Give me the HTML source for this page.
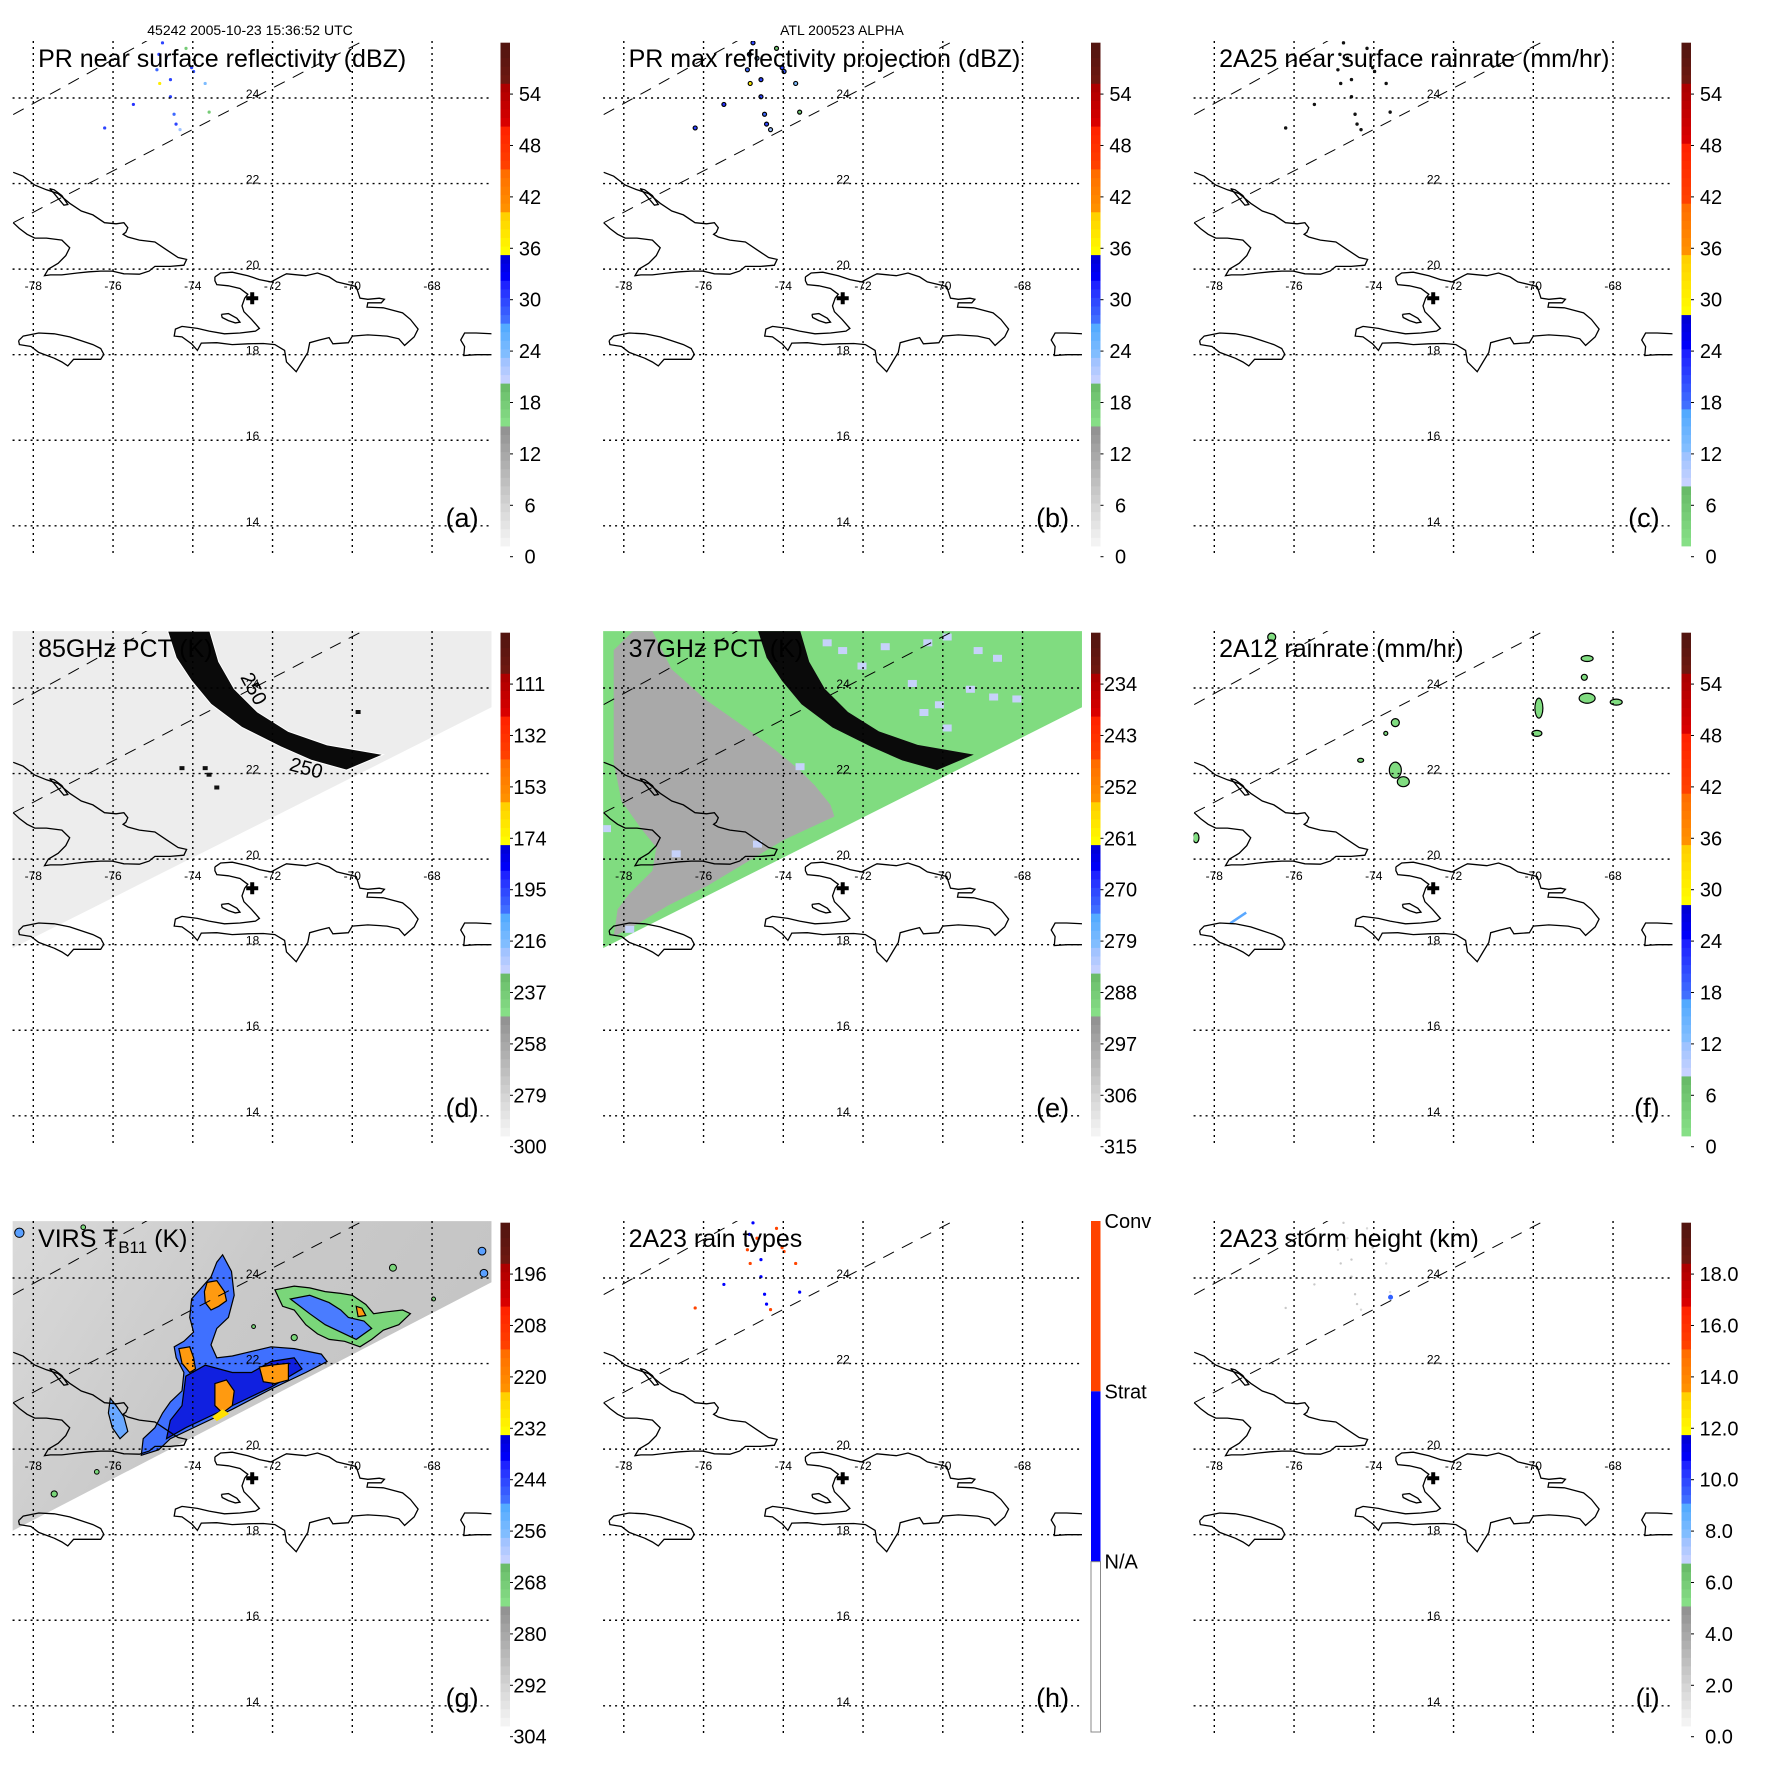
<!DOCTYPE html>
<html><head><meta charset="utf-8">
<style>
html,body{margin:0;padding:0;background:#fff}
svg{display:block}
text{font-family:"Liberation Sans",Arial,sans-serif;fill:#000}
</style></head>
<body>
<svg id="fig" width="1771" height="1771" viewBox="0 0 1771 1771" xmlns="http://www.w3.org/2000/svg">
<defs>
<linearGradient id="virsGrad" x1="0" y1="0" x2="1" y2="0.4">
<stop offset="0" stop-color="#dadada"/><stop offset="0.5" stop-color="#c9c9c9"/><stop offset="1" stop-color="#c4c4c4"/>
</linearGradient>
</defs>
<text x="250" y="35" font-size="14" text-anchor="middle">45242 2005-10-23 15:36:52 UTC</text>
<text x="842" y="35" font-size="14" text-anchor="middle">ATL 200523 ALPHA</text>
</svg>
<script>
// ---------- data arrays ----------
const gridLons=[-78,-76,-74,-72,-70,-68];
const gridLats=[24,22,20,18,16,14];
const labelsDBZ=['0','6','12','18','24','30','36','42','48','54'];
const labelsRain=['0','6','12','18','24','30','36','42','48','54'];
const labels85=['300','279','258','237','216','195','174','153','132','111'];
const labels37=['315','306','297','288','279','270','261','252','243','234'];
const labelsVIRS=['304','292','280','268','256','244','232','220','208','196'];
const labelsHeight=['0.0','2.0','4.0','6.0','8.0','10.0','12.0','14.0','16.0','18.0'];
const rainTypeLabels=['N/A','Strat','Conv'];
// PR echoes: lon, lat
const echoLon=[-74.76,-74.85,-74.90,-74.83,-74.56,-74.66,-74.03,-73.98,-73.69,-74.56,-75.49,-74.47,-74.42,-73.59,-76.21,-74.17,-74.32];
const echoLat=[25.29,25.02,24.66,24.34,24.43,24.93,24.71,24.62,24.34,24.03,23.85,23.62,23.39,23.67,23.30,25.16,23.26];
const echoDBZ=[30,30,28,37,30,23,30,29,24,30,31,28,30,18,30,18,23];
const echoRainType=[1,1,2,2,1,2,2,2,2,1,1,1,1,1,2,2,2];
// 2A12 rain cells: lon, lat, rx, ry
const cellLon=[-68.65,-68.72,-68.65,-67.92,-69.86,-69.91,-73.46,-73.70,-73.46,-73.26,-74.33,-76.56,-78.46];
const cellLat=[24.69,24.25,23.76,23.67,23.53,22.94,23.19,22.94,22.08,21.81,22.31,25.19,20.50];
const cellRx=[6,3,8,6,4,5,4,2,6,6,3,4,3];
const cellRy=[3,3,5,3,10,3,4,2,8,5,2,4,5];
// ---------- geometry ----------
const COLS=[0,590.5,1181];
const ROWS=[{top:41,bot:554,lat24:98,k:42.78,y0:556.7,u:8.567},{top:631,bot:1144,lat24:688,k:42.78,y0:1146.7,u:8.567},{top:1221,bot:1734,lat24:1278,k:42.78,y0:1736.7,u:8.567}];
function X(c,lon){return COLS[c]+33.3+(lon+78)*39.875;}
function Y(r,lat){return ROWS[r].lat24-(lat-24)*ROWS[r].k;}
const LONMIN=-78.52,LONMAX=-66.51,LATMAX=25.33,LATMIN=13.35;
// trace converters
function tLon(zx){return -78+(zx-86)/103;}
function tLat(zy){return 24-(zy-253)/110.5;}
function tLat3(zy){return 24-(zy-213)/116.3;}
function tLat2(zy){return 24-(zy-228)/110.5;}
const cubaT=[[34,445],[60,455],[90,478],[120,490],[150,500],[180,525],[210,545],[240,555],[270,575],[300,578],[320,575],[330,588],[325,600],[318,605],[330,612],[360,620],[400,625],[430,645],[460,665],[482,670],[475,685],[440,688],[400,688],[385,700],[360,708],[320,707],[290,700],[260,700],[230,702],[200,705],[160,710],[130,710],[115,712],[125,695],[150,680],[170,660],[180,640],[160,620],[120,615],[90,615],[70,605],[50,590],[34,575]];
const caysT=[[128,487],[140,490],[160,505],[175,528],[165,530],[150,512],[140,500],[128,487]];
const hispT=[[555,715],[570,705],[600,703],[640,712],[670,722],[700,728],[730,712],[740,707],[790,712],[820,705],[850,715],[870,728],[900,735],[920,740],[930,770],[950,773],[980,770],[993,773],[985,782],[950,782],[948,793],[990,795],[1040,808],[1060,825],[1080,850],[1070,870],[1045,892],[1030,875],[1000,868],[950,865],[910,868],[900,885],[860,888],[850,872],[825,878],[800,885],[795,910],[780,935],[765,960],[740,935],[735,905],[710,890],[680,887],[640,888],[600,890],[560,885],[520,886],[510,905],[495,888],[470,870],[450,868],[453,850],[470,843],[510,848],[540,855],[580,862],[620,860],[660,855],[670,848],[650,825],[630,805],[625,790],[632,770],[640,760],[620,745],[590,738],[560,735],[555,725],[555,715]];
const jamT=[[48,880],[60,868],[100,860],[140,862],[180,870],[210,880],[240,890],[260,900],[268,915],[260,928],[220,928],[190,928],[175,945],[160,935],[140,925],[100,910],[80,895],[50,890],[48,880]];
const prT=[[1272,862],[1230,860],[1200,860],[1190,878],[1200,895],[1198,918],[1230,916],[1272,916]];
const gonT=[[572,812],[590,810],[612,822],[620,832],[608,834],[590,828],[574,820],[572,812]];
const swathUpperT=[[34,296],[380,105]];
const swathLowerT=[[34,575],[930,110]];
const arcT=[[433,81],[455,150],[495,210],[545,270],[625,330],[725,380],[805,415],[895,440],[990,400],[845,375],[745,340],[665,290],[605,230],[565,160],[542,81]];
const grayPatchT=[[60,130],[110,81],[160,81],[210,180],[300,260],[400,330],[480,390],[540,440],[580,480],[620,530],[630,560],[500,620],[400,680],[300,740],[200,790],[100,850],[60,870],[70,800],[100,760],[160,700],[170,640],[130,590],[80,520],[60,420],[60,300]];
const iceSpotsT=[[610,110],[650,130],[870,110],[920,95],[1000,130],[1050,150],[830,215],[900,270],[920,330],[1040,250],[1100,255],[540,430],[430,630],[220,655],[40,590],[100,850],[700,170],[760,120],[980,230],[860,290]];
const darkSpots85T=[[470,435],[530,435],[560,485],[925,290],[540,452]];
const virsBlueA=[[575,150],[598,195],[605,260],[590,320],[560,350],[545,395],[560,430],[600,425],[640,415],[700,400],[760,405],[830,420],[845,440],[790,470],[700,515],[600,570],[520,610],[440,650],[410,680],[365,695],[370,650],[400,620],[420,580],[440,550],[470,520],[475,470],[455,430],[450,400],[475,385],[500,360],[490,320],[495,270],[520,240],[545,210],[560,170]];
const virsDeepA=[[480,480],[530,450],[600,470],[650,470],[700,440],[760,430],[780,460],[700,510],[620,550],[560,580],[480,620],[430,650],[440,600],[470,560]];
const virsGreenB=[[710,245],[760,235],[800,240],[840,250],[880,255],[910,260],[945,285],[965,310],[1000,305],[1040,300],[1060,310],[1030,340],[990,355],[960,380],[930,400],[890,385],[850,380],[820,365],[790,340],[760,300],[730,290]];
const virsBlueB=[[750,270],[800,260],[850,280],[880,300],[900,320],[940,330],[960,350],[920,380],[880,360],[840,340],[800,310]];
const virsLake=[[285,540],[300,560],[320,590],[330,630],[310,650],[290,620],[280,580]];
const virsOrange=[
 [[535,225],[560,220],[580,250],[585,275],[565,290],[545,300],[530,280],[528,250]],
 [[462,405],[490,400],[500,430],[505,460],[490,470],[470,445]],
 [[555,500],[585,490],[605,520],[600,560],[575,580],[555,560]],
 [[670,455],[700,450],[745,445],[745,490],[710,500],[680,495]],
 [[920,290],[935,295],[945,315],[925,318]]];
const virsYellow=[[548,590],[575,570],[592,582],[560,602]];
const virsSmall=[[1015,185,9,'#7ad67a'],[1245,140,10,'#5aa0ff'],[1250,200,10,'#5aa0ff'],[250,740,6,'#7ad67a'],[140,800,8,'#7ad67a'],[215,75,6,'#7ad67a'],[50,90,12,'#5aa0ff'],[655,345,5,'#7ad67a'],[760,375,8,'#7ad67a'],[1120,270,5,'#7ad67a']];

// ---------- helpers ----------
const NS='http://www.w3.org/2000/svg';
const svg=document.getElementById('fig');
function mk(tag,attrs,parent){const e=document.createElementNS(NS,tag);for(const k in attrs)e.setAttribute(k,attrs[k]);(parent||svg).appendChild(e);return e;}
function ptsLL(c,r,ll){return ll.map(p=>X(c,p[0]).toFixed(1)+','+Y(r,p[1]).toFixed(1)).join(' ');}
function traceLL(t,latFn){return t.map(p=>[tLon(p[0]),latFn(p[1])]);}
function hex(c){return [1,3,5].map(i=>parseInt(c.substr(i,2),16));}
function lerpC(a,b,t){const A=hex(a),B=hex(b);return 'rgb('+A.map((v,i)=>Math.round(v+(B[i]-v)*t)).join(',')+')';}

const DBZ_SCHEME=[[1.25,15.25,'#f7f7f7','#8f8f8f'],[15.25,20.25,'#8ae28a','#66b866'],[20.25,23.25,'#ccd4ff','#99c0ff'],[23.25,27.25,'#88c0ff','#4da8ff'],[27.25,32.25,'#4477ff','#1a1aff'],[32.25,35.25,'#0000ff','#0000d0'],[35.25,40.25,'#ffff00','#ffcc00'],[40.25,45.25,'#ff9400','#ff6a00'],[45.25,50.25,'#ff4400','#ff2000'],[50.25,55.25,'#dd0000','#a80000'],[55.25,60,'#701810','#501510']];
const RAIN_SCHEME=[[1.25,8.25,'#88e288','#66b866'],[8.25,12.25,'#ccd4ff','#99c0ff'],[12.25,17.25,'#88c0ff','#4da8ff'],[17.25,24.25,'#4477ff','#1a1aff'],[24.25,28.25,'#0000ff','#0000d0'],[28.25,35.25,'#ffff00','#ffcc00'],[35.25,41.25,'#ff9400','#ff6a00'],[41.25,48.25,'#ff4400','#ff2000'],[48.25,55.25,'#dd0000','#a80000'],[55.25,60,'#701810','#501510']];
function schemeColor(s,u){for(const seg of s){if(u>=seg[0]&&u<=seg[1]){return lerpC(seg[2],seg[3],(u-seg[0])/Math.max(0.01,seg[1]-seg[0]));}}return '#ffffff';}

const PANELS=[
 {c:0,r:0,id:'a',title:'PR near surface reflectivity (dBZ)',scheme:DBZ_SCHEME,labels:labelsDBZ,lx:530},
 {c:1,r:0,id:'b',title:'PR max reflectivity projection (dBZ)',scheme:DBZ_SCHEME,labels:labelsDBZ,lx:530},
 {c:2,r:0,id:'c',title:'2A25 near surface rainrate (mm/hr)',scheme:RAIN_SCHEME,labels:labelsRain,lx:530},
 {c:0,r:1,id:'d',title:'85GHz PCT (K)',scheme:DBZ_SCHEME,labels:labels85,lx:530},
 {c:1,r:1,id:'e',title:'37GHz PCT (K)',scheme:DBZ_SCHEME,labels:labels37,lx:530},
 {c:2,r:1,id:'f',title:'2A12 rainrate (mm/hr)',scheme:RAIN_SCHEME,labels:labelsRain,lx:530},
 {c:0,r:2,id:'g',title:null,scheme:DBZ_SCHEME,labels:labelsVIRS,lx:530},
 {c:1,r:2,id:'h',title:'2A23 rain types',scheme:null,labels:rainTypeLabels,lx:0},
 {c:2,r:2,id:'i',title:'2A23 storm height (km)',scheme:DBZ_SCHEME,labels:labelsHeight,lx:538}
];

PANELS.forEach(P=>{
 const c=P.c,r=P.r,R=ROWS[r];
 const x0=X(c,LONMIN),x1=X(c,LONMAX),y0=R.top,y1=R.bot;
 const g=mk('g',{});
 
 
 const cp=mk('clipPath',{id:'clip'+P.id},g);
 mk('rect',{x:x0,y:y0,width:x1-x0,height:y1-y0},cp);
 const m=mk('g',{'clip-path':'url(#clip'+P.id+')'},g);
 
 

 if(P.id==='d'||P.id==='e'){
  const sw=mk('polygon',{points:ptsLL(c,r,[[LONMIN,LATMAX],[LONMAX,LATMAX],[LONMAX,23.55],[LONMIN,17.92]]),fill:P.id==='d'?'#ededed':'#80dc80'},m);
  
  
  if(P.id==='e'){
   const clipSw=mk('clipPath',{id:'sw'+P.id},g);
   mk('polygon',{points:ptsLL(c,r,[[LONMIN,LATMAX],[LONMAX,LATMAX],[LONMAX,23.55],[LONMIN,17.92]])},clipSw);
   const gp=mk('polygon',{points:ptsLL(c,r,traceLL(grayPatchT,tLat2)),fill:'#a9a9a9','clip-path':'url(#sw'+P.id+')'},m);
   
   
   iceSpotsT.forEach(s=>{
    const e=mk('rect',{x:X(c,tLon(s[0]))-4,y:Y(r,tLat2(s[1]))-3,width:9,height:7,fill:'#c6d2fa','clip-path':'url(#sw'+P.id+')'},m);
    
    
   });
  } else {
   darkSpots85T.forEach(s=>{
    const e=mk('rect',{x:X(c,tLon(s[0]))-2.5,y:Y(r,tLat2(s[1]))-2,width:5,height:4,fill:'#111'},m);
    
    
   });
  }
 }
 if(P.id==='g'){
  const sw=mk('polygon',{points:ptsLL(c,r,[[LONMIN,LATMAX],[LONMAX,LATMAX],[LONMAX,23.9],[LONMIN,18.09]]),fill:'url(#virsGrad)'},m);
  
  
  const polys=[[virsBlueA,'#3f70ff'],[virsDeepA,'#1020e0'],[virsGreenB,'#7ad67a'],[virsBlueB,'#4a7cff'],[virsLake,'#6aa8ff']];
  polys.forEach(pp=>{
   const e=mk('polygon',{points:ptsLL(c,r,traceLL(pp[0],tLat3)),fill:pp[1],stroke:'#000','stroke-width':1.2},m);
   
   
  });
  virsOrange.forEach(o=>{
   const e=mk('polygon',{points:ptsLL(c,r,traceLL(o,tLat3)),fill:'#ff9a10',stroke:'#000','stroke-width':1.2},m);
   
   
  });
  const yv=mk('polygon',{points:ptsLL(c,r,traceLL(virsYellow,tLat3)),fill:'#ffe000'},m);
  
  
  virsSmall.forEach(s=>{
   const e=mk('circle',{cx:X(c,tLon(s[0])),cy:Y(r,tLat3(s[1])),r:s[2]/2.58,fill:s[3],stroke:'#000','stroke-width':1},m);
   
   
  });
 }
 if(P.title){
  const t=mk('text',{x:x0+25.5,y:y0+26,'font-size':25},g);
  t.textContent=P.title;
  
  
 } else {
  const t=mk('text',{x:x0+25.5,y:y0+26,'font-size':25},g);
  
  
  const a=mk('tspan',{},t);a.textContent='VIRS T';
  const b=mk('tspan',{dy:6,'font-size':17},t);b.textContent='B11';
  const d=mk('tspan',{dy:-6},t);d.textContent=' (K)';
 }
 if(['a','b','c','h','i'].includes(P.id)){
  echoLon.forEach((lon,i)=>{
   let fill,stroke='none',rad=1.6;
   if(P.id==='a'){fill=schemeColor(DBZ_SCHEME,echoDBZ[i]);}
   else if(P.id==='b'){fill=schemeColor(DBZ_SCHEME,echoDBZ[i]);stroke='#000';rad=2;}
   else if(P.id==='c'){fill='#111';rad=1.7;}
   else if(P.id==='h'){fill=echoRainType[i]===2?'#ff4400':'#0000ff';}
   else {fill=echoDBZ[i]>25?'#c8c8c8':'#d8d8d8';rad=1.2;}
   const e=mk('circle',{cx:X(c,lon),cy:Y(r,echoLat[i]),r:rad,fill:fill,stroke:stroke,'stroke-width':1.2},m);
   
   
  });
 }
 if(P.id==='i'){
  const e=mk('circle',{cx:X(c,-73.58),cy:Y(r,23.55),r:2.5,fill:'#3060ff'},m);
  
  
 }
 if(P.id==='f'){
  cellLon.forEach((lon,i)=>{
   const e=mk('ellipse',{cx:X(c,lon),cy:Y(r,cellLat[i]),rx:cellRx[i],ry:cellRy[i],fill:'#80dc80',stroke:'#000','stroke-width':1.2},m);
   
   
  });
  const jl=mk('line',{x1:X(c,-77.6),y1:Y(r,18.5),x2:X(c,-77.2),y2:Y(r,18.75),stroke:'#5aa8ff','stroke-width':2.5},m);
  
  
 }
 [cubaT,caysT,hispT,jamT,prT,gonT].forEach(t=>{
  const e=mk('polyline',{points:ptsLL(c,r,traceLL(t,tLat)),fill:'none',stroke:'#000','stroke-width':1.3},m);
  
  
 });
 gridLons.forEach(lon=>{
  const e=mk('line',{x1:X(c,lon),y1:y0,x2:X(c,lon),y2:y1,stroke:'#000','stroke-width':1.4,'stroke-dasharray':'2 4'},g);
  
  
  const t=mk('text',{x:X(c,lon),y:Y(r,20)+21,'font-size':12,'text-anchor':'middle'},g);
  t.textContent=String(lon);
  
  
 });
 gridLats.forEach(lat=>{
  const e=mk('line',{x1:x0,y1:Y(r,lat),x2:x1,y2:Y(r,lat),stroke:'#000','stroke-width':1.4,'stroke-dasharray':'2 4'},g);
  
  
  const t=mk('text',{x:X(c,-72.5),y:Y(r,lat),'font-size':12,'text-anchor':'middle'},g);
  t.textContent=String(lat);
  
  
 });
 [swathUpperT,swathLowerT].forEach(t=>{
  const ll=traceLL(t,tLat);
  const e=mk('polyline',{points:ptsLL(c,r,ll),fill:'none',stroke:'#000','stroke-width':1,'stroke-dasharray':'12 9'},m);
  
  
 });
 if(P.id==='d'||P.id==='e'){
  const a=mk('polygon',{points:ptsLL(c,r,traceLL(arcT,tLat2)),fill:'#0a0a0a',stroke:P.id==='d'?'#fff':'none','stroke-width':1},m);
  
  
  if(P.id==='d'){
   const ax=X(c,tLon(620)),ay=Y(r,tLat2(200));
   const t1=mk('text',{x:ax,y:ay,'font-size':20,transform:'rotate(62 '+ax+' '+ay+')'},m);
   t1.textContent='250';
   
   
   const bx2=X(c,tLon(745)),by2=Y(r,tLat2(440));
   const t2=mk('text',{x:bx2,y:by2,'font-size':20,transform:'rotate(15 '+bx2+' '+by2+')'},m);
   t2.textContent='250';
   
   
  }
 }
 const cx=X(c,-72.51),cy=Y(r,19.32);
 const pl=mk('path',{d:`M${cx-6} ${cy}H${cx+6}M${cx} ${cy-6}V${cy+6}`,stroke:'#000','stroke-width':4},g);
 
 
 const lt=mk('text',{x:x0+466,y:y0+486,'font-size':27,'text-anchor':'end'},g);
 lt.textContent='('+P.id+')';
 
 
 const bx=COLS[c]+500.5,bw=9.5;
 const cb=mk('g',{},g);
 
 
 const uy=u=>R.y0-u*R.u;
 if(P.scheme){
  for(let u=1.25;u<60;u+=1){
   const u2=Math.min(60,u+1);
   const e=mk('rect',{x:bx,y:uy(u2),width:bw,height:uy(u)-uy(u2)+0.4,fill:schemeColor(P.scheme,(u+u2)/2)},cb);
   
   
  }
  P.labels.forEach((lab,i)=>{
   const yy=uy(6*i);
   const tk=mk('line',{x1:bx+bw,y1:yy,x2:bx+bw+3,y2:yy,stroke:'#000','stroke-width':1},cb);
   
   
   const t=mk('text',{x:COLS[c]+P.lx,y:yy+7,'font-size':20,'text-anchor':'middle'},cb);
   t.textContent=lab;
   
   
  });
 } else {
  const yTop=R.top,yBot=R.top+511,seg=(yBot-yTop)/3;
  const segs=[['#ff4400',yTop],['#0000ff',yTop+seg],['#ffffff',yTop+2*seg]];
  segs.forEach(s=>{
   const e=mk('rect',{x:bx,y:s[1],width:bw,height:seg,fill:s[0],stroke:s[0]==='#ffffff'?'#888':'none','stroke-width':1},cb);
   
   
  });
  P.labels.forEach((lab,i)=>{
   const t=mk('text',{x:bx+13.5,y:yTop+(2-i)*seg+7,'font-size':20},cb);
   t.textContent=lab;
   
   
  });
 }
});
</script>
</body></html>
